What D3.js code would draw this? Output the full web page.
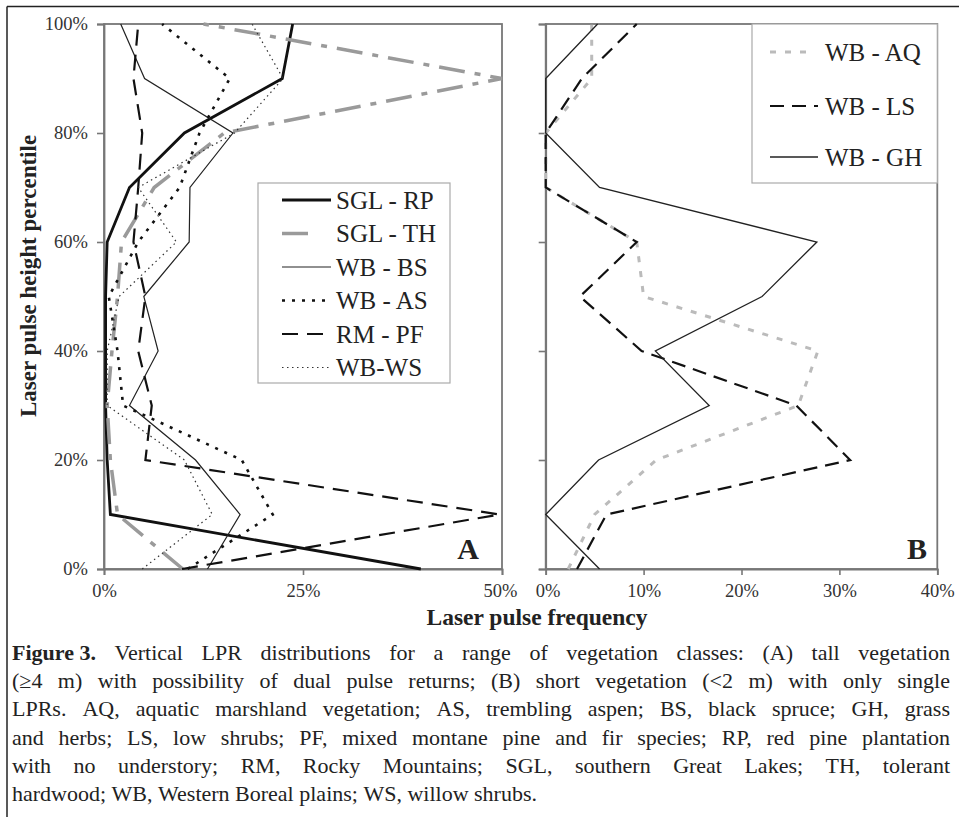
<!DOCTYPE html>
<html><head><meta charset="utf-8">
<script src="https://cdn.jsdelivr.net/npm/d3@7"></script>
<style>body{margin:0;background:#fff} svg{display:block}</style>
</head><body><svg id="c" width="959" height="817"></svg>
<script>
// ---------- data ----------
const percentiles = [0, 10, 20, 30, 40, 50, 60, 70, 80, 90, 100];
// Panel A (tall vegetation), laser pulse frequency (%)
const sglRP = [39.8, 0.8, 0.4, 0.2, 0.2, 0.2, 0.4, 3.2, 10.1, 22.4, 23.7];
const sglTH = [9.9, 1.7, 0.8, 0.4, 1.0, 1.7, 2.2, 6.3, 15.1, 50, 12.5];
const wbBS  = [13.0, 17.1, 11.5, 3.2, 6.8, 5.0, 10.7, 10.8, 16.2, 5.1, 2.1];
const wbAS  = [10.5, 21.2, 17.3, 2.4, 1.7, 0.6, 4.3, 9.5, 12.0, 15.8, 7.3];
const rmPF  = [9.8, 49.7, 5.2, 6.0, 4.3, 5.2, 3.7, 4.3, 4.8, 3.7, 4.3];
const wbWS  = [4.8, 13.6, 10.1, 0.4, 0.4, 1.9, 9.1, 4.3, 16.4, 22.5, 18.6];
// Panel B (short vegetation)
const wbAQ  = [2.3, 5.0, 11.3, 25.8, 27.8, 10.0, 9.3, 0, 0, 4.7, 4.7];
const wbLS  = [3.2, 6.2, 31.1, 25.6, 9.8, 3.5, 9.3, 0, 0, 3.7, 9.3];
const wbGH  = [5.5, 0, 5.4, 16.7, 11.2, 22.1, 27.7, 5.5, 0, 0, 5.3];

const namesA = ["SGL - RP", "SGL - TH", "WB - BS", "WB - AS", "RM - PF", "WB-WS"];
const valuesA = [sglRP, sglTH, wbBS, wbAS, rmPF, wbWS];
const namesB = ["WB - AQ", "WB - LS", "WB - GH"];
const valuesB = [wbAQ, wbLS, wbGH];
const ticksA = [0, 25, 50];
const ticksB = [0, 10, 20, 30, 40];
const ticksY = [0, 20, 40, 60, 80, 100];

const captionLines = [
  ["Figure 3.", " Vertical LPR distributions for a range of vegetation classes: (A) tall vegetation"],
  ["", "(≥4 m) with possibility of dual pulse returns; (B) short vegetation (<2 m) with only single"],
  ["", "LPRs. AQ, aquatic marshland vegetation; AS, trembling aspen; BS, black spruce; GH, grass"],
  ["", "and herbs; LS, low shrubs; PF, mixed montane pine and fir species; RP, red pine plantation"],
  ["", "with no understory; RM, Rocky Mountains; SGL, southern Great Lakes; TH, tolerant"],
  ["", "hardwood; WB, Western Boreal plains; WS, willow shrubs."]
];

// ---------- styles ----------
const styles = {
  "SGL - RP": {stroke: "#111", width: 2.8, dash: null},
  "SGL - TH": {stroke: "#9a9a9a", width: 3.5, dash: "26,10,6,10"},
  "WB - BS":  {stroke: "#222", width: 1.2, dash: null},
  "WB - AS":  {stroke: "#111", width: 2.6, dash: "3,7"},
  "RM - PF":  {stroke: "#111", width: 2.2, dash: "16,9"},
  "WB-WS":    {stroke: "#333", width: 1.2, dash: "1.5,3.5"},
  "WB - AQ":  {stroke: "#bbb", width: 3, dash: "6,9"},
  "WB - LS":  {stroke: "#111", width: 2.2, dash: "14,8"},
  "WB - GH":  {stroke: "#222", width: 1.3, dash: null}
};
const legSample = {
  "SGL - RP": 49, "SGL - TH": 30, "WB - BS": 49, "WB - AS": 44, "RM - PF": 49, "WB-WS": 49,
  "WB - AQ": 38, "WB - LS": 48, "WB - GH": 48
};

const serif = "'Liberation Serif', 'Times New Roman', serif";
const svg = d3.select("#c");

// outer frame
svg.append("line").attr("x1", 7).attr("y1", 6.5).attr("x2", 959).attr("y2", 6.5)
  .attr("stroke", "#222").attr("stroke-width", 1.5);
svg.append("line").attr("x1", 7).attr("y1", 6.5).attr("x2", 7).attr("y2", 817)
  .attr("stroke", "#222").attr("stroke-width", 1.5);

const y = d3.scaleLinear().domain([0, 100]).range([569, 24]);
const xA = d3.scaleLinear().domain([0, 50]).range([104, 502]);
const xB = d3.scaleLinear().domain([0, 40]).range([545.7, 937.3]);

function panel(x, names, values, showYLabels, xTicks) {
  const g = svg.append("g");
  const [x0, x1] = x.range();
  const [y0, y1] = y.range();
  g.append("rect").attr("x", x0).attr("y", y1).attr("width", x1 - x0).attr("height", y0 - y1)
    .attr("fill", "none").attr("stroke", "#777").attr("stroke-width", 1.8);
  const ya = d3.axisLeft(y).tickValues(ticksY).tickSize(7).tickPadding(9)
    .tickFormat(d => showYLabels ? d + "%" : "");
  const gy = g.append("g").attr("transform", `translate(${x0},0)`).call(ya);
  const xa = d3.axisBottom(x).tickValues(xTicks).tickSize(6).tickPadding(9).tickFormat(d => d + "%");
  const gx = g.append("g").attr("transform", `translate(0,${y0})`).call(xa);
  [gy, gx].forEach(a => {
    a.select(".domain").attr("stroke", "#777").attr("stroke-width", 1.8);
    a.selectAll(".tick line").attr("stroke", "#777").attr("stroke-width", 1.6);
    a.selectAll(".tick text").attr("font-family", serif).attr("font-size", 18.5).attr("fill", "#333");
  });
  const line = d3.line().x(d => x(d[0])).y(d => y(d[1]));
  names.forEach((n, i) => {
    const s = styles[n];
    const pts = values[i].map((v, j) => [v, percentiles[j]]);
    g.append("path").attr("d", line(pts)).attr("fill", "none")
      .attr("stroke", s.stroke).attr("stroke-width", s.width)
      .attr("stroke-dasharray", s.dash).attr("stroke-linejoin", "miter");
  });
  return gx;
}

const gxA = panel(xA, namesA, valuesA, true, ticksA);
const gxB = panel(xB, namesB, valuesB, false, ticksB);
gxA.selectAll(".tick text").filter(d => d === 50).attr("dx", -2);
gxB.selectAll(".tick text").filter(d => d === 0).attr("dx", 2);

// legends
function legend(names, box, rowY, sx, tx, fs) {
  svg.append("rect").attr("x", box[0]).attr("y", box[1]).attr("width", box[2]).attr("height", box[3])
    .attr("fill", "#fff").attr("stroke", "#aaa").attr("stroke-width", 1.2);
  names.forEach((n, i) => {
    const s = styles[n];
    const yy = rowY[i];
    svg.append("line").attr("x1", sx).attr("x2", sx + legSample[n]).attr("y1", yy).attr("y2", yy)
      .attr("stroke", s.stroke).attr("stroke-width", s.width).attr("stroke-dasharray", s.dash);
    svg.append("text").attr("x", tx).attr("y", yy).attr("dy", "0.34em")
      .attr("font-family", serif).attr("font-size", fs).attr("fill", "#222").text(n);
  });
}
legend(namesA, [258, 183, 192, 200], [200, 233.5, 267, 300.5, 334, 367.5], 282, 336, 25);
legend(namesB, [752, 24, 185.3, 159], [52, 106, 157], 770, 825, 25);

// panel letters
svg.append("text").attr("x", 479).attr("y", 559).attr("text-anchor", "end")
  .attr("font-family", serif).attr("font-weight", "bold").attr("font-size", 30).attr("fill", "#222").text("A");
svg.append("text").attr("x", 927).attr("y", 559).attr("text-anchor", "end")
  .attr("font-family", serif).attr("font-weight", "bold").attr("font-size", 30).attr("fill", "#222").text("B");

// axis titles
svg.append("text").attr("transform", "translate(36,276) rotate(-90)").attr("text-anchor", "middle")
  .attr("font-family", serif).attr("font-weight", "bold").attr("font-size", 23).attr("fill", "#222")
  .text("Laser pulse height percentile");
svg.append("text").attr("x", 537).attr("y", 625).attr("text-anchor", "middle")
  .attr("font-family", serif).attr("font-weight", "bold").attr("font-size", 23.5).attr("fill", "#222")
  .text("Laser pulse frequency");

// caption, justified
const capX0 = 12, capX1 = 950, capFs = 22;
const baseY = 660, lineH = 28.2;
captionLines.forEach((ln, i) => {
  const justify = i < captionLines.length - 1;
  const words = [];
  if (ln[0]) words.push({t: ln[0], b: true});
  ln[1].trim().split(/\s+/).forEach(w => words.push({t: w, b: false}));
  const tmp = svg.append("text").attr("font-family", serif).attr("font-size", capFs);
  const widths = words.map(w => {
    tmp.attr("font-weight", w.b ? "bold" : "normal").text(w.t);
    return tmp.node().getComputedTextLength();
  });
  tmp.attr("font-weight", "normal").text("a b");
  const ab = tmp.node().getComputedTextLength();
  tmp.text("ab");
  const spaceW = ab - tmp.node().getComputedTextLength();
  tmp.remove();
  const total = d3.sum(widths);
  const gap = justify ? (capX1 - capX0 - total) / (words.length - 1) : spaceW;
  const t = svg.append("text").attr("y", baseY + i * lineH)
    .attr("font-family", serif).attr("font-size", capFs).attr("fill", "#222");
  let cx = capX0;
  words.forEach((w, k) => {
    t.append("tspan").attr("x", cx).attr("font-weight", w.b ? "bold" : "normal").text(w.t);
    cx += widths[k] + gap;
  });
});
</script></body></html>
